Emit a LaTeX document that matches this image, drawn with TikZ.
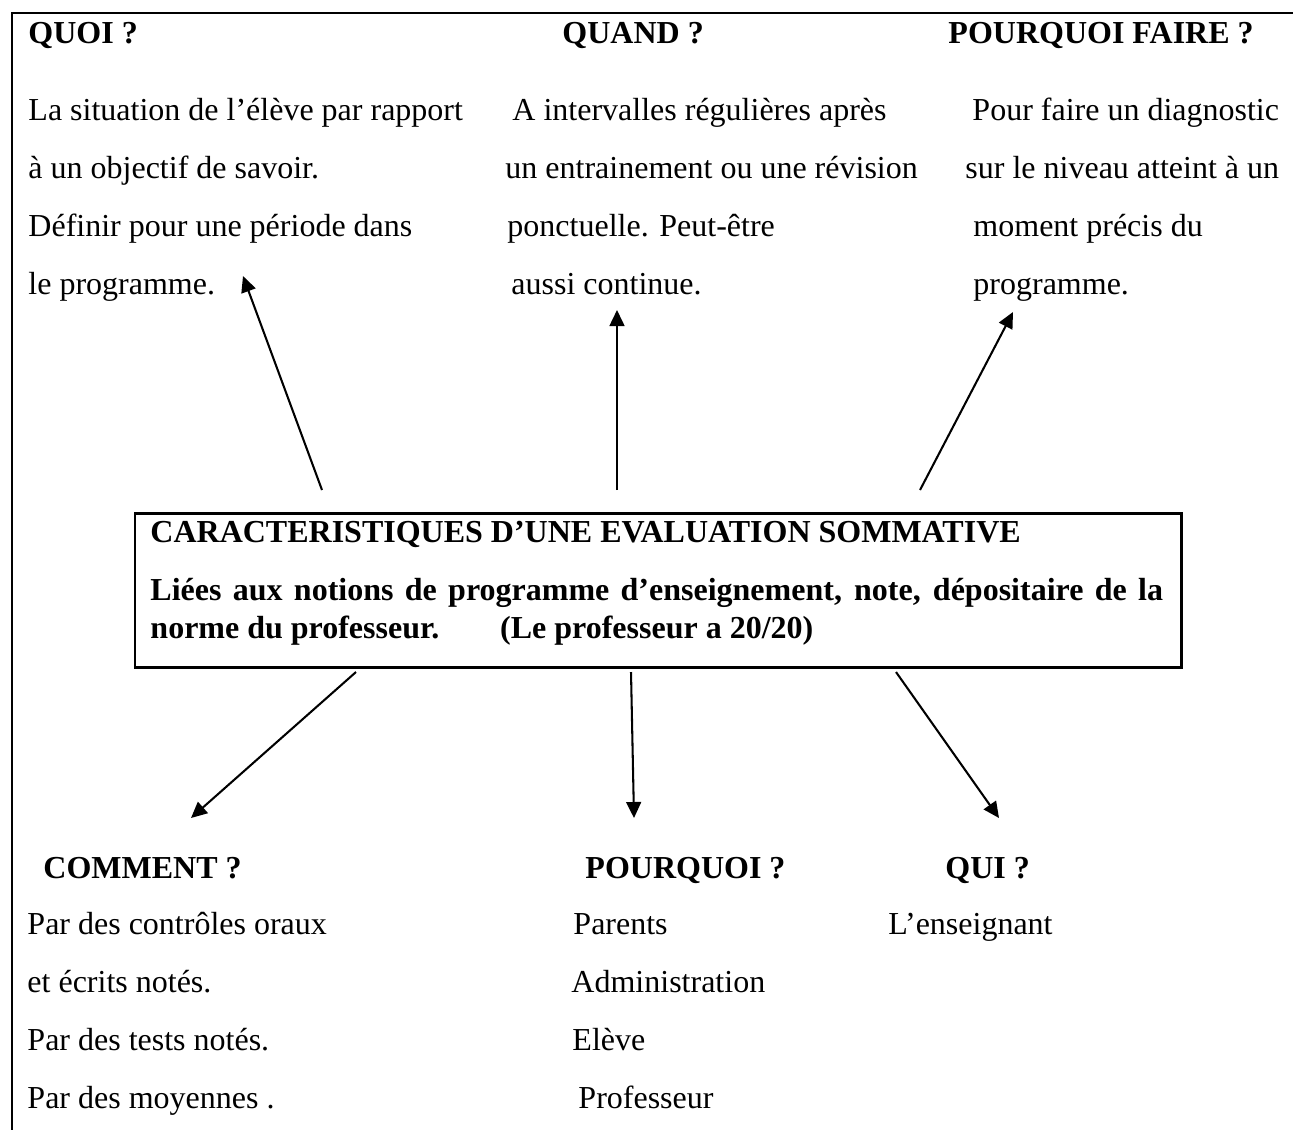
\documentclass[tikz,border=0pt]{standalone}
\usepackage{fontspec}
\setmainfont{Liberation Serif}
\usetikzlibrary{arrows.meta}
\begin{document}
\begin{tikzpicture}[x=0.4375pt,y=-0.4375pt,
  txt/.style={anchor=base west, inner sep=0pt, font=\fontsize{14}{16}\selectfont},
  hd/.style={anchor=base west, inner sep=0pt, font=\fontsize{14}{16}\selectfont\bfseries},
  arr/.style={line width=0.9pt, -{Triangle[length=7pt,width=6.5pt]}},
  frameline/.style={line width=1.3pt}]
\useasboundingbox (0,0) rectangle (1293,1130);
% outer frame (top and left edges)
\draw[frameline] (1293,13) -- (12,13) -- (12,1130);

% top headings and texts
\node[hd] (quoi) at (28,43) {QUOI ?};
\node[txt] (q1) at (28,120) {La situation de l’élève par rapport};
\node[txt] (q2) at (28,178) {à un objectif de savoir.};
\node[txt] (q3) at (28,236) {Définir pour une période dans};
\node[txt] (q4) at (28,294) {le programme.};

\node[hd] (quand) at (562,43) {QUAND ?};
\node[txt] (w1) at (512,120) {A intervalles régulières après};
\node[txt] (w2) at (505,178) {un entrainement ou une révision};
\node[txt] (w3) at (507,236) {ponctuelle. Peut-être};
\node[txt] (w4) at (511,294) {aussi continue.};

\node[hd] (pf) at (948,43) {POURQUOI FAIRE ?};
\node[txt] (p1) at (972,120) {Pour faire un diagnostic};
\node[txt] (p2) at (965,178) {sur le niveau atteint à un};
\node[txt] (p3) at (973,236) {moment précis du};
\node[txt] (p4) at (973,294) {programme.};

% central box
\draw[frameline] (135,513) rectangle (1181,667);
\node[hd] (c1) at (150,542) {CARACTERISTIQUES D’UNE EVALUATION SOMMATIVE};
\node[hd] (c2) at (150,600) {\hbox to 443pt{Liées aux notions de programme d’enseignement, note, dépositaire de la}};
\node[hd] (c3) at (150,638) {norme du professeur.\hspace{1.9em}(Le professeur a 20/20)};

% bottom headings and texts
\node[hd] (comment) at (43,878) {COMMENT ?};
\node[txt] (m1) at (27,934) {Par des contrôles oraux};
\node[txt] (m2) at (27,992) {et écrits notés.};
\node[txt] (m3) at (27,1050) {Par des tests notés.};
\node[txt] (m4) at (27,1108) {Par des moyennes .};

\node[hd] (pourquoi) at (585,878) {POURQUOI ?};
\node[txt] (r1) at (573,934) {Parents};
\node[txt] (r2) at (571,992) {Administration};
\node[txt] (r3) at (572,1050) {Elève};
\node[txt] (r4) at (578,1108) {Professeur};

\node[hd] (qui) at (945,878) {QUI ?};
\node[txt] (u1) at (888,934) {L’enseignant};

% arrow end points
\coordinate (s1) at (322,490);  \coordinate (e1) at (243,276);
\coordinate (s2) at (617,490);  \coordinate (e2) at (617,310);
\coordinate (s3) at (920,490);  \coordinate (e3) at (1013,312);
\coordinate (s4) at (356,672);  \coordinate (e4) at (191,818);
\coordinate (s5) at (631,672);  \coordinate (e5) at (634,818);
\coordinate (s6) at (896,672);  \coordinate (e6) at (999,818);

\draw[arr] (s1) -- (e1);
\draw[arr] (s2) -- (e2);
\draw[arr] (s3) -- (e3);
\draw[arr] (s4) -- (e4);
\draw[arr] (s5) -- (e5);
\draw[arr] (s6) -- (e6);
\end{tikzpicture}
\end{document}
